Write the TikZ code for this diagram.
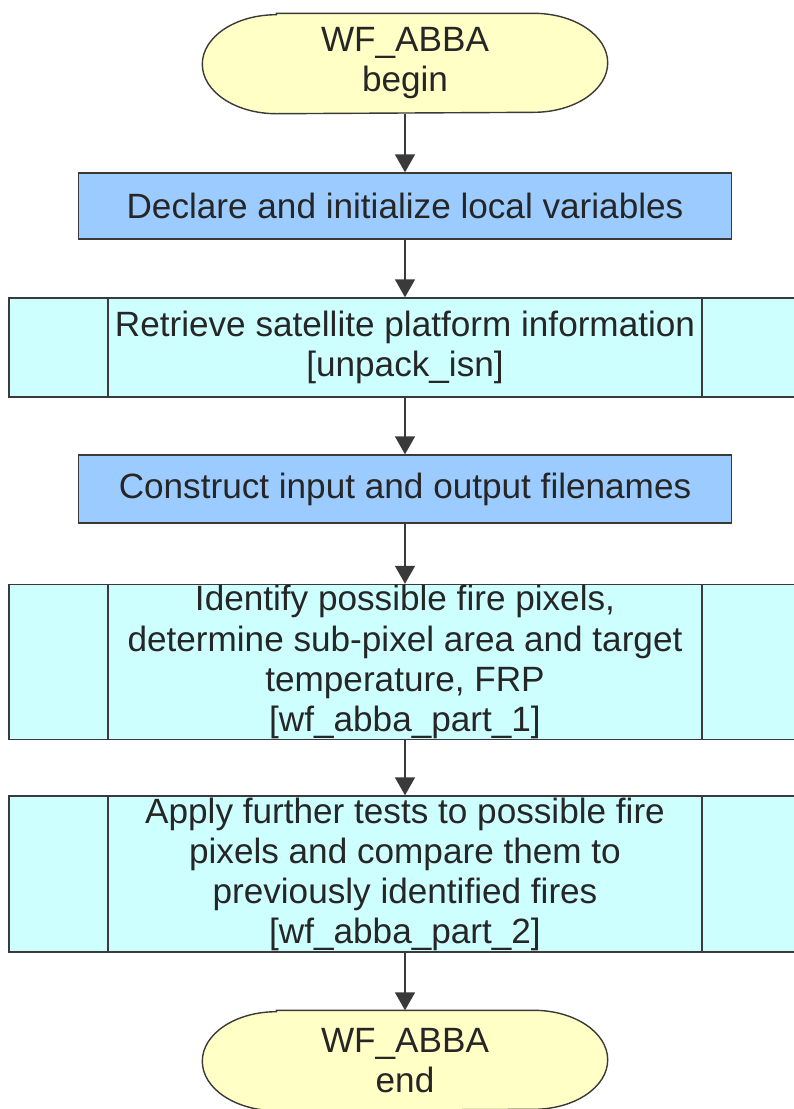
\documentclass[tikz,border=0pt]{standalone}
\usepackage{fontspec}
\setmainfont{Liberation Sans}
\usepackage{xcolor}
\usepackage{tikz}
\usetikzlibrary{positioning,arrows.meta,backgrounds}

\definecolor{termyellow}{HTML}{FFFFC6}
\definecolor{procblue}{HTML}{9CCCFF}
\definecolor{subcyan}{HTML}{CEFFFF}
\definecolor{edgegray}{HTML}{3A3A3A}

\tikzset{
    box/.style={draw=edgegray, line width=1pt, text=black!85,
        font=\fontsize{25}{28.5}\selectfont, align=center, inner sep=0pt},
    terminal/.style={box, draw=none, rectangle,
        minimum width=10.1cm, minimum height=2.475cm},
    termshape/.style={draw=edgegray, line width=1pt, fill=termyellow},
    procbox/.style={box, rectangle, fill=procblue,
        minimum width=16.325cm},
    subproc/.style={box, rectangle, fill=subcyan, minimum width=19.8cm,
        path picture={
            \draw[edgegray, line width=1pt]
                ([xshift=2.475cm]path picture bounding box.north west) --
                ([xshift=2.475cm]path picture bounding box.south west);
            \draw[edgegray, line width=1pt]
                ([xshift=-2.475cm]path picture bounding box.north east) --
                ([xshift=-2.475cm]path picture bounding box.south east);
        }},
    flow/.style={draw=edgegray, line width=1.1pt,
        -{Triangle[width=0.5cm,length=0.45cm]}}
}

\begin{document}
\begin{tikzpicture}
    \useasboundingbox (0,0) rectangle (19.85,-27.725);

    % start / end
    \node[terminal] (start) at (10.125,-1.5875) {WF\_ABBA\\begin};
    \node[terminal] (stop) at (10.125,-26.5125) {WF\_ABBA\\end};
    \begin{scope}[on background layer]
        \foreach \t in {start,stop}
            \draw[termshape] ([xshift=1.85cm]\t.north west) -- ([xshift=-1.85cm]\t.north east)
                arc[start angle=90, end angle=-90, x radius=1.85cm, y radius=1.2375cm]
                -- ([xshift=1.85cm]\t.south west)
                arc[start angle=270, end angle=90, x radius=1.85cm, y radius=1.2375cm] -- cycle;
    \end{scope}

    % steps
    \node[procbox, minimum height=1.65cm] (decl) at (10.125,-5.15)
        {Declare and initialize local variables};
    \node[subproc, minimum height=2.475cm] (isn) at (10.125,-8.6875)
        {Retrieve satellite platform information\\{}[unpack\_isn]};
    \node[procbox, minimum height=1.7cm] (names) at (10.125,-12.225)
        {Construct input and output filenames};
    \node[subproc, minimum height=3.875cm] (part1) at (10.125,-16.55)
        {Identify possible fire pixels,\\determine sub-pixel area and target\\temperature, FRP\\{}[wf\_abba\_part\_1]};
    \node[subproc, minimum height=3.9cm] (part2) at (10.125,-21.85)
        {Apply further tests to possible fire\\pixels and compare them to\\previously identified fires\\{}[wf\_abba\_part\_2]};

    % connectors
    \draw[flow] (start) -- (decl);
    \draw[flow] (decl) -- (isn);
    \draw[flow] (isn) -- (names);
    \draw[flow] (names) -- (part1);
    \draw[flow] (part1) -- (part2);
    \draw[flow] (part2) -- (stop);
\end{tikzpicture}
\end{document}
